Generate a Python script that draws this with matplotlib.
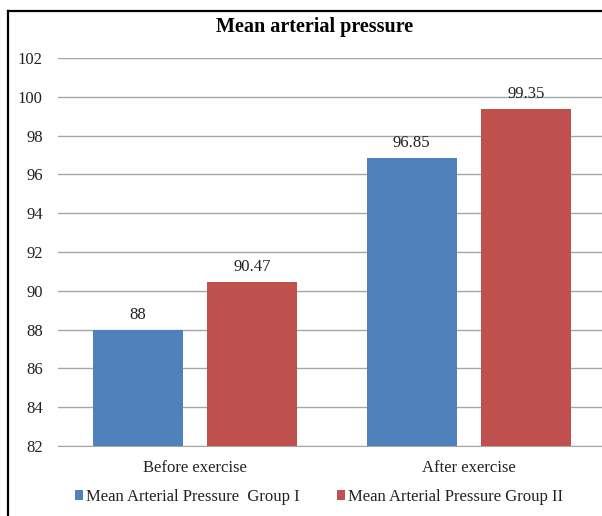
import numpy as np
import matplotlib.pyplot as plt
from matplotlib.lines import Line2D
from matplotlib.patches import Patch

plt.rcParams["font.family"] = "Liberation Serif"

# data
categories = ["Before exercise", "After exercise"]
series_names = ["Mean Arterial Pressure  Group I", "Mean Arterial Pressure Group II"]
group1 = [88, 96.85]
group2 = [90.47, 99.35]
group1_labels = ["88", "96.85"]
group2_labels = ["90.47", "99.35"]
yticks = list(range(82, 103, 2))

blue = "#4F81BD"
red = "#C0504D"
txt = "#222222"

fig = plt.figure(figsize=(6.02, 5.16), dpi=100)
ax = fig.add_axes([58 / 602, 70 / 516, 548 / 602, 388 / 516])

x = np.arange(len(categories))
w = 0.33
off = 0.209
b1 = ax.bar(x - off, np.array(group1) - 82, w, bottom=82, color=blue, zorder=3)
b2 = ax.bar(x + off, np.array(group2) - 82, w, bottom=82, color=red, zorder=3)

for bars, labels in ((b1, group1_labels), (b2, group2_labels)):
    for rect, lab in zip(bars, labels):
        ax.annotate(lab, (rect.get_x() + rect.get_width() / 2, rect.get_y() + rect.get_height()),
                    xytext=(0, 5), textcoords="offset points", ha="center", va="bottom",
                    fontsize=12, color=txt)

ax.set_ylim(82, 102)
ax.set_xlim(-0.5, 1.5)
ax.set_yticks(yticks)
ax.set_xticks(x)
ax.set_xticklabels(categories)
ax.tick_params(axis="both", length=0, labelsize=12, labelcolor=txt)
ax.tick_params(axis="y", pad=11)
ax.tick_params(axis="x", pad=10)
ax.yaxis.grid(True, color="#a6a6a6", linewidth=1)
ax.set_axisbelow(True)
for s in ["left", "right", "top"]:
    ax.spines[s].set_visible(False)
ax.spines["bottom"].set_color("#a6a6a6")

fig.text(315 / 602, 1 - 27 / 516, "Mean arterial pressure", ha="center", va="center",
         fontsize=14.5, fontweight="bold")

handles = [Patch(facecolor=blue), Patch(facecolor=red)]
fig.legend(handles, series_names, loc="center", bbox_to_anchor=(319 / 602, 1 - 497 / 516),
           ncol=2, frameon=False, fontsize=12, handlelength=0.5, handleheight=0.5,
           handletextpad=0.2, columnspacing=2.2, labelcolor=txt)

# outer border (left and top only visible in crop)
fig.add_artist(Line2D([8 / 602, 8 / 602], [0, 1 - 11 / 516], color="black", linewidth=1.6,
                      transform=fig.transFigure))
fig.add_artist(Line2D([8 / 602, 1], [1 - 11 / 516, 1 - 11 / 516], color="black", linewidth=1.6,
                      transform=fig.transFigure))

fig.savefig("out.png", dpi=100)
